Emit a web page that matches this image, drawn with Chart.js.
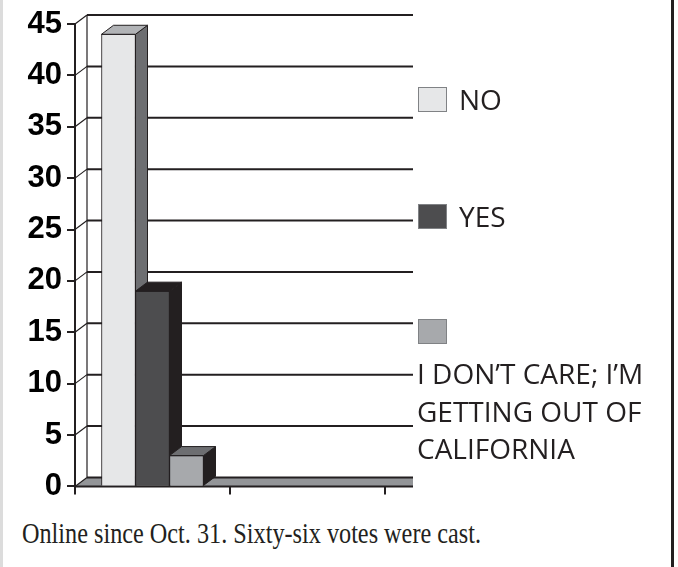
<!DOCTYPE html>
<html>
<head>
<meta charset="utf-8">
<title>Poll</title>
<script src="https://cdn.jsdelivr.net/npm/chart.js@4/dist/chart.umd.min.js"></script>
<style>
    html, body { margin: 0; padding: 0; background: #fff; }
    body { width: 678px; height: 567px; position: relative; overflow: hidden; }
    .edge-left { position: absolute; left: 0; top: 0; width: 3px; height: 567px; background: #dcdcdc; }
    .edge-right { position: absolute; left: 671px; top: 0; width: 3px; height: 567px; background: #231f20; }
    #chart-wrap { position: absolute; left: 0; top: 0; width: 420px; height: 510px; }
    #legend { position: absolute; left: 418px; top: 0; width: 250px; height: 480px;
              font-family: "Open Sans", sans-serif; font-size: 28px; color: #231f20; }
    .legend-item { position: absolute; left: 0; display: flex; align-items: center; }
    .legend-item .swatch { width: 27px; height: 23px; border: 1px solid #808285; flex: none; }
    .legend-item .text { margin-left: 12px; line-height: 28px; white-space: nowrap; }
    .legend-item.long { flex-direction: column; align-items: flex-start; }
    .legend-item.long .text { margin-left: -1px; margin-top: 11px; line-height: 37.5px; white-space: normal; width: 245px; }
    #caption { position: absolute; left: 22px; top: 518px; white-space: nowrap;
               font-family: "Liberation Serif", serif; font-size: 30px; line-height: 30px;
               color: #231f20; transform-origin: 0 0; }
</style>
</head>
<body>
<div class="edge-left"></div>
<div class="edge-right"></div>
<div id="chart-wrap"><canvas id="poll-chart"></canvas></div>
<div id="legend"></div>
<div id="caption">Online since Oct. 31. Sixty-six votes were cast.</div>

<script>
    // Poll results (one group of bars, second slot is empty)
    var categories = ['', ''];
    var seriesNames = ['NO', 'YES', 'I DON\u2019T CARE; I\u2019M GETTING OUT OF CALIFORNIA'];
    var noVotes = [44];
    var yesVotes = [19];
    var dontCareVotes = [3];
    var yTicks = [0, 5, 10, 15, 20, 25, 30, 35, 40, 45];

    // Looks of the fake 3D bars
    var frontColors = ['#e6e7e8', '#4d4d4f', '#a7a9ac'];
    var sideColors = ['#6d6e71', '#231f20', '#231f20'];
    var topColors = ['#b1b3b6', '#231f20', '#6d6e71'];
    var legendTops = [85, 202, 319];
    var DEPTH_X = 12;
    var DEPTH_Y = 9;
    var WALL_EXTRA = 28;
    var INK = '#231f20';

    function drawDepth(ctx, bar, idx) {
        var p = bar.getProps(['x', 'y', 'base', 'width'], true);
        var l = p.x - p.width / 2;
        var r = p.x + p.width / 2;

        // side face
        ctx.beginPath();
        ctx.moveTo(r, p.y);
        ctx.lineTo(r + DEPTH_X, p.y - DEPTH_Y);
        ctx.lineTo(r + DEPTH_X, p.base - DEPTH_Y);
        ctx.lineTo(r, p.base);
        ctx.closePath();
        ctx.fillStyle = sideColors[idx];
        ctx.fill();
        ctx.stroke();

        // top face
        ctx.beginPath();
        ctx.moveTo(l, p.y);
        ctx.lineTo(l + DEPTH_X, p.y - DEPTH_Y);
        ctx.lineTo(r + DEPTH_X, p.y - DEPTH_Y);
        ctx.lineTo(r, p.y);
        ctx.closePath();
        ctx.fillStyle = topColors[idx];
        ctx.fill();
        ctx.stroke();
    }

    var wallsPlugin = {
        id: 'walls',

        // back wall, side wall edge and floor
        beforeDatasetsDraw: function(chart) {
            var ctx = chart.ctx;
            var area = chart.chartArea;
            var yScale = chart.scales.y;
            var left = area.left;
            var right = area.right + WALL_EXTRA;
            var bottom = yScale.getPixelForValue(0);
            var top = yScale.getPixelForValue(yTicks[yTicks.length - 1]);

            ctx.save();
            ctx.beginPath();
            ctx.moveTo(left, bottom);
            ctx.lineTo(right, bottom);
            ctx.lineTo(right, bottom - DEPTH_Y);
            ctx.lineTo(left + DEPTH_X, bottom - DEPTH_Y);
            ctx.closePath();
            ctx.fillStyle = '#939598';
            ctx.fill();

            ctx.strokeStyle = INK;
            ctx.lineWidth = 2;
            ctx.beginPath();
            ctx.moveTo(left, bottom);
            ctx.lineTo(right, bottom);
            ctx.stroke();

            yTicks.forEach(function(v) {
                var py = yScale.getPixelForValue(v);
                ctx.lineWidth = 2;
                ctx.beginPath();
                ctx.moveTo(left + DEPTH_X, py - DEPTH_Y);
                ctx.lineTo(right, py - DEPTH_Y);
                ctx.stroke();

                ctx.lineWidth = 1.2;
                ctx.beginPath();
                ctx.moveTo(left, py);
                ctx.lineTo(left + DEPTH_X, py - DEPTH_Y);
                ctx.stroke();
            });

            ctx.lineWidth = 1.2;
            ctx.beginPath();
            ctx.moveTo(left + DEPTH_X, top - DEPTH_Y);
            ctx.lineTo(left + DEPTH_X, bottom - DEPTH_Y);
            ctx.stroke();
            ctx.restore();
        },

        // side and top faces, left to right so each bar hides the one behind it
        afterDatasetsDraw: function(chart) {
            var ctx = chart.ctx;
            ctx.save();
            chart.data.datasets.forEach(function(ds, i) {
                var meta = chart.getDatasetMeta(i);
                meta.data.forEach(function(bar) {
                    if (i > 0) {
                        bar.draw(ctx, chart.chartArea);
                    }
                    ctx.strokeStyle = INK;
                    ctx.lineWidth = 1;
                    drawDepth(ctx, bar, i);
                });
            });
            ctx.restore();
        }
    };

    var seriesValues = [noVotes, yesVotes, dontCareVotes];
    var datasets = seriesNames.map(function(name, i) {
        return {
            label: name,
            data: seriesValues[i],
            backgroundColor: frontColors[i],
            borderColor: INK,
            borderWidth: 1,
            barThickness: 34
        };
    });

    new Chart(document.getElementById('poll-chart'), {
        type: 'bar',
        data: {
            labels: categories,
            datasets: datasets
        },
        options: {
            responsive: true,
            maintainAspectRatio: false,
            animation: false,
            layout: {
                padding: { top: 24, right: 35, bottom: 0, left: 0 }
            },
            plugins: {
                legend: { display: false },
                tooltip: { enabled: false }
            },
            scales: {
                x: {
                    grid: {
                        drawOnChartArea: false,
                        drawTicks: true,
                        tickLength: 8,
                        color: INK,
                        lineWidth: 2
                    },
                    border: { display: false },
                    ticks: { display: false },
                    afterFit: function(axis) {
                        axis.height = 21;
                    }
                },
                y: {
                    min: 0,
                    max: 45,
                    afterBuildTicks: function(axis) {
                        axis.ticks = yTicks.map(function(v) {
                            return { value: v };
                        });
                    },
                    grid: {
                        drawOnChartArea: false,
                        drawTicks: true,
                        tickLength: 8,
                        color: INK,
                        lineWidth: 2
                    },
                    border: { display: true, color: INK, width: 2 },
                    ticks: {
                        padding: 5,
                        color: '#000',
                        font: { family: '"Liberation Sans", Arial, sans-serif', size: 31, weight: 'bold' }
                    },
                    afterFit: function(axis) {
                        axis.width = 75;
                    }
                }
            }
        },
        plugins: [wallsPlugin]
    });

    // legend built from the same names and colours
    var legend = document.getElementById('legend');
    seriesNames.forEach(function(name, i) {
        var item = document.createElement('div');
        item.className = 'legend-item' + (name.length > 20 ? ' long' : '');
        item.style.top = legendTops[i] + 'px';
        var sw = document.createElement('span');
        sw.className = 'swatch';
        sw.style.background = frontColors[i];
        var tx = document.createElement('span');
        tx.className = 'text';
        tx.textContent = name;
        item.appendChild(sw);
        item.appendChild(tx);
        legend.appendChild(item);
    });

    // squeeze the caption to the width of the printed line
    var caption = document.getElementById('caption');
    var w = caption.getBoundingClientRect().width;
    caption.style.transform = 'scaleX(' + (459 / w) + ')';
</script>
</body>
</html>
